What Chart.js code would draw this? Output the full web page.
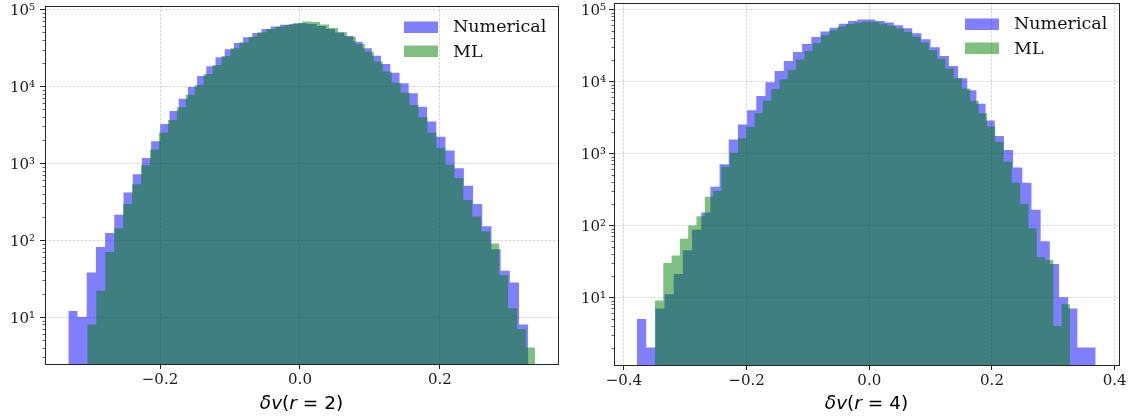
<!DOCTYPE html>
<html><head><meta charset="utf-8">
<script src="https://cdn.jsdelivr.net/npm/chart.js@4.4.0/dist/chart.umd.min.js"></script>
<style>
html,body{margin:0;padding:0;background:#fff;}
#wrap{position:relative;width:1133px;height:419px;overflow:hidden;}
canvas{position:absolute;top:0;}
#c1{left:0;}
#c2{left:565px;}
</style></head><body>
<div id="wrap">
<canvas id="c1" width="565" height="419" style="width:565px;height:419px"></canvas>
<canvas id="c2" width="568" height="419" style="width:568px;height:419px"></canvas>
</div>
<script>
// ---------------- data ----------------
const seriesLabels = ['Numerical', 'ML'];
const seriesColors = ['rgba(0,0,255,0.5)', 'rgba(0,128,0,0.5)'];

// Panel 1: δv(r = 2)  — histogram bin ranges (first edge, last edge) and counts
const r2NumRange = [-0.3310, 0.3261];
const r2NumCounts = [12, 10, 38, 81, 124, 213, 415, 720, 1170, 1930, 3240, 4780, 6900, 9800, 13600, 18200, 23800, 30200, 36500, 43300, 49300, 55600, 59600, 63100, 64500, 65800, 64600, 60600, 55500, 50100, 45000, 38000, 31200, 24900, 19500, 15000, 10900, 8130, 5430, 3470, 2210, 1460, 861, 507, 295, 151, 76, 40, 28, 8];
const r2MLRange = [-0.3039, 0.3357];
const r2MLCounts = [8, 22, 70, 143, 295, 533, 942, 1500, 2490, 3630, 5330, 7770, 10400, 14400, 18900, 24800, 31200, 37300, 44000, 50200, 55500, 59500, 62500, 66500, 69500, 68500, 63500, 57000, 50500, 44000, 35500, 28000, 21000, 15500, 11100, 8320, 5710, 3950, 2490, 1570, 950, 638, 333, 202, 129, 90, 35, 13, 7, 4];

// Panel 2: δv(r = 4)
const r4NumRange = [-0.3786, 0.3690];
const r4NumCounts = [5, 2, 7, 11, 21, 45, 87, 150, 343, 703, 1560, 2520, 3970, 6250, 9680, 13900, 19100, 25600, 33000, 41200, 49000, 55600, 63000, 69000, 72000, 72000, 69000, 65300, 60000, 54500, 46400, 38300, 29600, 22400, 16300, 11000, 7500, 4880, 2850, 1740, 1110, 635, 390, 165, 60, 29, 10, 7, 2, 2];
const r4MLRange = [-0.3493, 0.3271];
const r4MLCounts = [9, 30, 38, 65, 99, 133, 250, 300, 650, 1020, 1620, 2340, 3600, 5400, 7800, 10700, 14500, 20000, 26300, 33900, 43600, 51300, 57500, 62400, 65000, 67000, 66500, 63000, 59000, 54000, 48500, 41500, 34500, 27000, 20500, 15000, 11000, 7940, 5370, 3600, 2350, 1450, 760, 390, 198, 91, 36, 33, 4, 8];

// axes
const r2XRange = [-0.3643, 0.3686];
const r4XRange = [-0.4161, 0.4070];
const r2YRange = [2.45, 110400];
const r4YRange = [1.147, 122300];
const r2XTicks = [-0.2, 0.0, 0.2];
const r4XTicks = [-0.4, -0.2, 0.0, 0.2, 0.4];
const yDecadeTicks = [1e1, 1e2, 1e3, 1e4, 1e5];
const xTitles = ['δv(r = 2)', 'δv(r = 4)'];

// ---------------- helpers ----------------
function histPoints(range, counts) {
  const n = counts.length, w = (range[1] - range[0]) / n;
  const pts = counts.map((c, i) => ({x: range[0] + i * w, y: c}));
  pts.push({x: range[1], y: counts[n - 1]});
  return pts;
}
const SUP = {'0':'⁰','1':'¹','2':'²','3':'³','4':'⁴','5':'⁵','6':'⁶','7':'⁷','8':'⁸','9':'⁹','-':'⁻'};
function decadeLabel(v) {
  const e = Math.round(Math.log10(v));
  return '10' + String(e).split('').map(c => SUP[c]).join('');
}
function xLabel(v) {
  const s = Math.abs(v) < 1e-9 ? '0.0' : Number(v).toFixed(1);
  return s.replace('-', '\u2212');
}

const decorPlugin = {
  id: 'decor',
  afterDatasetsDraw(chart) {
    const cfg = chart.options.plugins.decor;
    const {ctx, chartArea: a} = chart;
    const y = chart.scales.y;
    ctx.save();
    // minor log ticks
    ctx.strokeStyle = '#222';
    ctx.lineWidth = 0.7;
    const lo = Math.floor(Math.log10(y.min)), hi = Math.ceil(Math.log10(y.max));
    for (let d = lo; d <= hi; d++) {
      for (let m = 2; m <= 9; m++) {
        const v = m * Math.pow(10, d);
        if (v < y.min || v > y.max) continue;
        const py = Math.round(y.getPixelForValue(v)) + 0.5;
        ctx.beginPath(); ctx.moveTo(a.left - 2.5, py); ctx.lineTo(a.left, py); ctx.stroke();
      }
    }
    // frame
    ctx.strokeStyle = '#262626';
    ctx.lineWidth = 1;
    const L = Math.round(a.left), T = Math.round(a.top), R = Math.round(a.right), B = Math.round(a.bottom);
    ctx.strokeRect(L + 0.5, T + 0.5, R - L, B - T);
    // legend
    ctx.textAlign = 'left';
    ctx.textBaseline = 'middle';
    ctx.font = '17.5px "DejaVu Serif"';
    chart.data.datasets.forEach((ds, i) => {
      ctx.fillStyle = ds.backgroundColor;
      ctx.fillRect(a.right - 154, a.top + 15.5 + 24 * i, 34, 11.5);
      ctx.fillStyle = '#111';
      ctx.fillText(ds.label, a.right - 105, a.top + 21 + 25 * i);
    });
    // x axis title (mathtext style: letters italic, symbols upright)
    const size = 18.5;
    const fIt = 'italic ' + size + 'px "DejaVu Sans"';
    const fUp = size + 'px "DejaVu Sans"';
    const parts = [...cfg.title].map(ch => ({ch, f: /[A-Za-zδ]/.test(ch) ? fIt : fUp}));
    let total = 0;
    parts.forEach(p => { ctx.font = p.f; p.w = ctx.measureText(p.ch).width; total += p.w; });
    let x = (a.left + a.right) / 2 - total / 2;
    ctx.textAlign = 'left';
    ctx.textBaseline = 'alphabetic';
    ctx.fillStyle = '#000';
    parts.forEach(p => { ctx.font = p.f; ctx.fillText(p.ch, x, cfg.titleY); x += p.w; });
    ctx.restore();
  }
};

function makeChart(id, c) {
  return new Chart(document.getElementById(id), {
    type: 'line',
    data: {
      datasets: [
        {label: seriesLabels[0], data: histPoints(c.numRange, c.numCounts), backgroundColor: seriesColors[0], order: 2},
        {label: seriesLabels[1], data: histPoints(c.mlRange, c.mlCounts), backgroundColor: seriesColors[1], order: 1}
      ].map(d => Object.assign(d, {stepped: true, fill: 'start', borderColor: 'rgba(0,0,0,0)', borderWidth: 0, pointRadius: 0, pointHoverRadius: 0, tension: 0}))
    },
    options: {
      responsive: false,
      animation: false,
      devicePixelRatio: 1,
      layout: {padding: {left: 0, right: c.padRight, top: c.padTop, bottom: 0}},
      plugins: {
        legend: {display: false},
        tooltip: {enabled: false},
        decor: {title: c.title, titleY: 409}
      },
      scales: {
        x: {
          type: 'linear', min: c.xRange[0], max: c.xRange[1],
          afterBuildTicks: s => { s.ticks = c.xTicks.map(v => ({value: v})); },
          afterFit: s => { s.height = c.xAxisH; s.paddingLeft = 0; s.paddingRight = 0; },
          ticks: {callback: v => xLabel(v), font: {family: 'DejaVu Serif', size: 15}, color: '#1a1a1a', padding: 2, maxRotation: 0, autoSkip: false},
          grid: {color: 'rgba(170,170,170,0.5)', lineWidth: 1, drawTicks: true, tickLength: 5, tickColor: '#222', tickWidth: 1},
          border: {display: false, dash: [2.5, 1.5]}
        },
        y: {
          type: 'logarithmic', min: c.yRange[0], max: c.yRange[1],
          afterBuildTicks: s => { s.ticks = yDecadeTicks.filter(v => v >= c.yRange[0] && v <= c.yRange[1]).map(v => ({value: v, major: true})); },
          afterFit: s => { s.width = c.yAxisW; s.paddingTop = 0; s.paddingBottom = 0; },
          ticks: {callback: v => decadeLabel(v), font: {family: 'DejaVu Serif', size: 15}, color: '#1a1a1a', padding: c.yPad, labelOffset: 2, autoSkip: false},
          grid: {color: 'rgba(170,170,170,0.5)', lineWidth: 1, drawTicks: true, tickLength: 5, tickColor: '#222', tickWidth: 1},
          border: {display: false, dash: [2.5, 1.5]}
        }
      }
    },
    plugins: [decorPlugin]
  });
}

makeChart('c1', {
  numRange: r2NumRange, numCounts: r2NumCounts, mlRange: r2MLRange, mlCounts: r2MLCounts,
  xRange: r2XRange, yRange: r2YRange, xTicks: r2XTicks, title: xTitles[0],
  padRight: 7, padTop: 6, xAxisH: 55, yAxisW: 45, yPad: 5
});
makeChart('c2', {
  numRange: r4NumRange, numCounts: r4NumCounts, mlRange: r4MLRange, mlCounts: r4MLCounts,
  xRange: r4XRange, yRange: r4YRange, xTicks: r4XTicks, title: xTitles[1],
  padRight: 14, padTop: 3, xAxisH: 54, yAxisW: 49, yPad: 3
});
</script>
</body></html>
